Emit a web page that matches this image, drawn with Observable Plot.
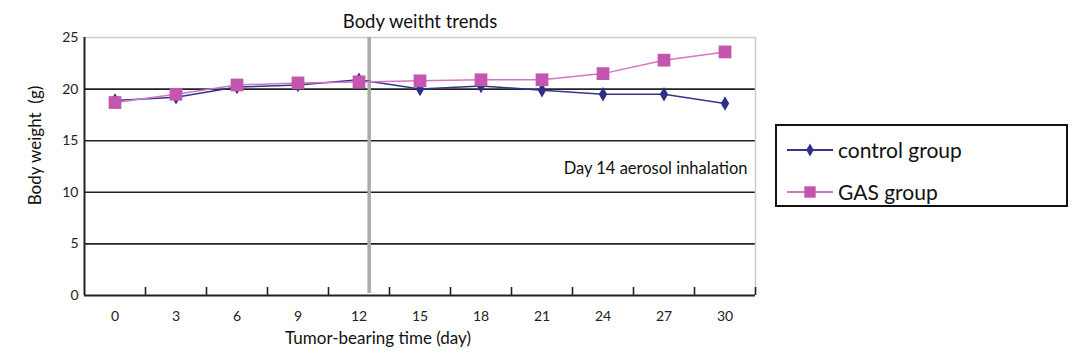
<!DOCTYPE html>
<html>
<head>
<meta charset="utf-8">
<script src="https://cdn.jsdelivr.net/npm/d3@7"></script>
<script src="https://cdn.jsdelivr.net/npm/@observablehq/plot@0.6"></script>
<style>
  html, body { margin: 0; padding: 0; background: #fff; }
  #wrap { position: relative; width: 1082px; height: 356px; font-family: Lato, "Open Sans", sans-serif; }
  #legend { position: absolute; left: 775px; top: 124px; width: 289px; height: 79px; border: 2px solid #111; background: #fff; }
  .item { position: absolute; left: 8px; height: 25px; display: flex; align-items: center; font-size: 21px; color: #111; }
  .item svg { margin-right: 3px; }
</style>
</head>
<body>
<div id="wrap"></div>
<script>
// ---- data ----
const days = [0, 3, 6, 9, 12, 15, 18, 21, 24, 27, 30];
const control = [18.9, 19.2, 20.2, 20.4, 20.9, 20.0, 20.3, 19.9, 19.5, 19.5, 18.6];
const gas = [18.7, 19.5, 20.4, 20.6, 20.7, 20.8, 20.9, 20.9, 21.5, 22.8, 23.6];
const seriesNames = ["control group", "GAS group"];
const yTicks = [0, 5, 10, 15, 20, 25];
const gridValues = [5, 10, 15, 20];
const markerDay = 12.5;
const titleText = "Body weitht trends";
const xLabel = "Tumor-bearing time (day)";
const yLabel = "Body weight  (g)";
const noteText = "Day 14 aerosol inhalation";

const colors = {"control group": "#2e2f86", "GAS group": "#c456b0"};
const lineColors = {"control group": "#33358f", "GAS group": "#d277c3"};
const symbols = {"control group": "diamond", "GAS group": "square"};
const radii = {"control group": 4.4, "GAS group": 7.2};

const rows = [];
days.forEach((d, i) => {
  rows.push({day: d, value: control[i], group: seriesNames[0]});
  rows.push({day: d, value: gas[i], group: seriesNames[1]});
});
const boundaries = days.map(d => d + 1.5);

const font = "Lato, 'Open Sans', sans-serif";
const marks = [];
// grid
marks.push(Plot.ruleY(gridValues, {stroke: "#222", strokeWidth: 1.6}));
marks.push(Plot.ruleY([25], {stroke: "#ccc", strokeWidth: 1.5}));
marks.push(Plot.ruleX([31.5], {stroke: "#ccc", strokeWidth: 1.5}));
// vertical marker
marks.push(Plot.ruleX([markerDay], {stroke: "#aaa", strokeWidth: 3.5, insetTop: 0, insetBottom: 2}));
// series
for (const name of seriesNames) {
  const data = rows.filter(r => r.group === name);
  marks.push(Plot.line(data, {x: "day", y: "value", stroke: lineColors[name], strokeWidth: 1.5}));
  marks.push(Plot.dot(data, {x: "day", y: "value", symbol: symbols[name], fill: colors[name], r: radii[name], stroke: "none"}));
}
// axes
marks.push(Plot.ruleX([-1.5], {stroke: "#222", strokeWidth: 2}));
marks.push(Plot.ruleY([0], {stroke: "#222", strokeWidth: 2}));
marks.push(Plot.ruleX(boundaries, {stroke: "#222", strokeWidth: 1.6, insetTop: 250}));
marks.push(Plot.axisX(days, {tickSize: 0, tickPadding: 16, fontSize: 14, fill: "#222", label: null}));
marks.push(Plot.axisY(yTicks, {tickSize: 0, tickPadding: 6, fontSize: 14, fill: "#222", label: null}));
// texts
marks.push(Plot.text([titleText], {frameAnchor: "top", lineAnchor: "middle", dy: -15, fontSize: 18.5, fill: "#111"}));
marks.push(Plot.text([xLabel], {frameAnchor: "bottom", lineAnchor: "middle", dx: -42, dy: 43, fontSize: 17, fill: "#111"}));
marks.push(Plot.text([yLabel], {frameAnchor: "left", textAnchor: "middle", lineAnchor: "middle", rotate: -90, dx: -49, dy: -21, fontSize: 17, fill: "#111"}));
marks.push(Plot.text([noteText], {frameAnchor: "right", textAnchor: "end", lineAnchor: "middle", dx: -8, dy: 2, fontSize: 16.5, fill: "#111"}));

const chart = Plot.plot({
  width: 1082,
  height: 356,
  marginLeft: 84,
  marginRight: 327,
  marginTop: 37,
  marginBottom: 61,
  style: {fontFamily: font, background: "#fff", overflow: "visible"},
  x: {domain: [-1.5, 31.5], axis: null},
  y: {domain: [0, 25], axis: null},
  marks
});
const wrap = document.getElementById("wrap");
wrap.appendChild(chart);

// legend
const legend = document.createElement("div");
legend.id = "legend";
const tops = [11, 53];
seriesNames.forEach((name, i) => {
  const item = document.createElement("div");
  item.className = "item";
  item.style.top = tops[i] + "px";
  const s = d3.create("svg").attr("width", 50).attr("height", 20);
  s.append("line").attr("x1", 2).attr("x2", 48).attr("y1", 10).attr("y2", 10)
    .attr("stroke", lineColors[name]).attr("stroke-width", 1.8);
  const sym = symbols[name] === "square" ? d3.symbolSquare : d3.symbolDiamond;
  s.append("path").attr("d", d3.symbol(sym, Math.PI * radii[name] * radii[name] * 0.8)())
    .attr("transform", "translate(25,10)").attr("fill", colors[name]);
  item.appendChild(s.node());
  const t = document.createElement("span");
  t.textContent = name;
  item.appendChild(t);
  legend.appendChild(item);
});
wrap.appendChild(legend);
</script>
</body>
</html>
